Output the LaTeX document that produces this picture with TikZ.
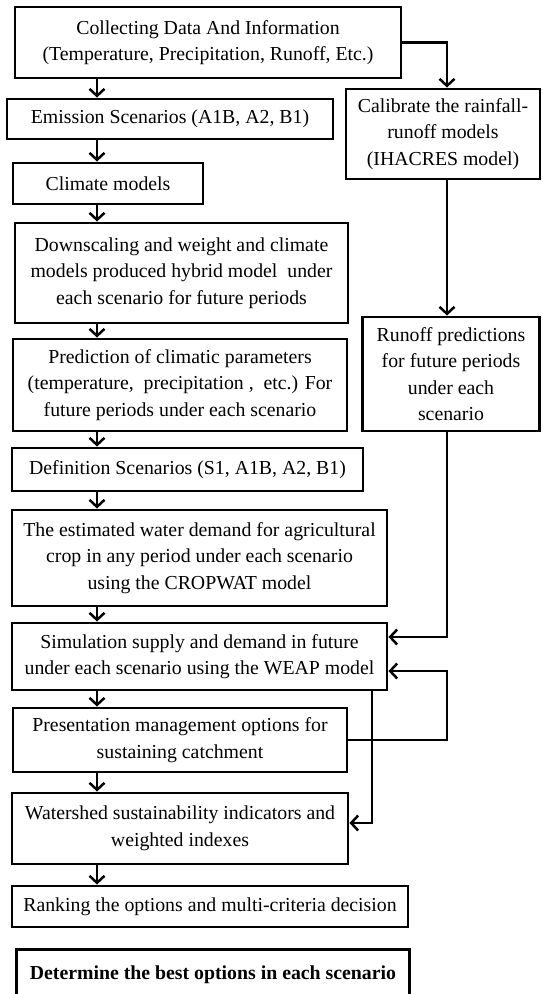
\documentclass[tikz,border=0pt]{standalone}
\usepackage{fontspec}
\setmainfont{Liberation Serif}
\usetikzlibrary{arrows.meta}
\begin{document}
\begin{tikzpicture}[x=1pt,y=-1pt,
  box/.style={draw, line width=2.9pt, inner sep=0pt, align=center,
    font=\fontsize{19.8}{26.5}\selectfont},
  arr/.style={line width=2.5pt, -{Straight Barb[length=7pt,width=15pt,line width=2.5pt]}},
  link/.style={line width=2.5pt}]
\useasboundingbox (0,0) rectangle (542,994);
\clip (0,0) rectangle (542,994);
% left column
\node[box, minimum width=386pt, minimum height=71pt] (col) at (208,42.5)
  {Collecting Data And Information\\(Temperature, Precipitation, Runoff, Etc.)};
\node[box, minimum width=326pt, minimum height=40pt] (emi) at (170,119)
  {Emission Scenarios (A1B, A2, B1)};
\node[box, minimum width=190pt, minimum height=41pt] (cli) at (108,183.5)
  {Climate models};
\node[box, minimum width=333pt, minimum height=100pt] (down) at (181.5,273)
  {Downscaling and weight and climate\\models produced hybrid model ~under\\each scenario for future periods};
\node[box, minimum width=334pt, minimum height=92pt] (pred) at (180,385)
  {Prediction of climatic parameters\\(temperature, ~precipitation , ~etc.) For\\future periods under each scenario};
\node[box, minimum width=351pt, minimum height=43pt] (def) at (187.5,469.5)
  {Definition Scenarios (S1, A1B, A2, B1)};
\node[box, minimum width=375pt, minimum height=96pt] (est) at (199.5,558)
  {The estimated water demand for agricultural\\crop in any period under each scenario\\using the CROPWAT model};
\node[box, minimum width=375pt, minimum height=67pt] (sim) at (199.5,656.5)
  {Simulation supply and demand in future\\under each scenario using the WEAP model};
\node[box, minimum width=334pt, minimum height=64pt] (pres) at (180,740)
  {Presentation management options for\\sustaining catchment};
\node[box, minimum width=336pt, minimum height=71pt] (wat) at (180,828.5)
  {Watershed sustainability indicators and\\weighted indexes};
\node[box, minimum width=396pt, minimum height=41pt] (rank) at (210,906.5)
  {Ranking the options and multi-criteria decision};
\node[box, minimum width=393pt, text height=30pt, text depth=54pt, anchor=north west,
  font=\fontsize{19.8}{26.5}\selectfont\bfseries] (det) at (15,948)
  {Determine the best options in each scenario};
% right column
\node[box, minimum width=194pt, minimum height=90pt] (cal) at (443,134)
  {Calibrate the rainfall-\\runoff models\\(IHACRES model)};
\node[box, minimum width=177pt, minimum height=114pt] (run) at (451,374)
  {Runoff predictions\\for future periods\\under each\\scenario};
% helper coordinates
\coordinate (xl) at (97,0);
\coordinate (xr) at (447,0);
\coordinate (xm) at (372,0);
\coordinate (ya) at (0,637);
\coordinate (yb) at (0,671);
\coordinate (yc) at (0,823);
% left chain
\draw[arr] (col.south -| xl) -- (emi.north -| xl);
\draw[arr] (emi.south -| xl) -- (cli.north -| xl);
\draw[arr] (cli.south -| xl) -- (down.north -| xl);
\draw[arr] (down.south -| xl) -- (pred.north -| xl);
\draw[arr] (pred.south -| xl) -- (def.north -| xl);
\draw[arr] (def.south -| xl) -- (est.north -| xl);
\draw[arr] (est.south -| xl) -- (sim.north -| xl);
\draw[arr] (sim.south -| xl) -- (pres.north -| xl);
\draw[arr] (pres.south -| xl) -- (wat.north -| xl);
\draw[arr] (wat.south -| xl) -- (rank.north -| xl);
% right branch
\draw[arr] (col.east) -| (cal.north -| xr);
\draw[arr] (cal.south -| xr) -- (run.north -| xr);
\draw[arr] (run.south -| xr) |- (sim.east |- ya);
% feedback loops
\draw[arr] (pres.east) -- (pres.east -| xr) |- (sim.east |- yb);
\draw[arr] (sim.south -| xm) |- (wat.east |- yc);
\end{tikzpicture}
\end{document}
